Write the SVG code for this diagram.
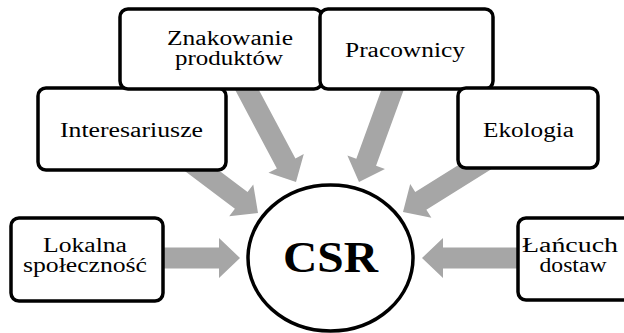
<svg xmlns="http://www.w3.org/2000/svg" width="624" height="333" viewBox="0 0 624 333">
  <style>
    .box { fill: #ffffff; stroke: #000000; stroke-width: 3.5; }
    .arrow { fill: #a6a6a6; stroke: none; }
    text { font-family: 'Liberation Serif', 'Times New Roman', Times, Tinos, FreeSerif, 'Nimbus Roman', 'Nimbus Roman No9 L', 'DejaVu Serif', 'Noto Serif', Georgia, serif; fill: #000000; text-anchor: middle; font-size: 20px; }
    .hub { font-size: 45px; font-weight: bold; }
  </style>

  <!-- block arrows: tip at origin, pointing along +x, shaft length set per use -->
  <g id="connectors">
    <polygon class="arrow" points="-110,-10.5 -21,-10.5 -21,-20 0,0 -21,20 -21,10.5 -110,10.5" transform="translate(296,182) rotate(62)"/>
    <polygon class="arrow" points="-85,-10.5 -21,-10.5 -21,-20 0,0 -21,20 -21,10.5 -85,10.5" transform="translate(258,213) rotate(37)"/>
    <polygon class="arrow" points="-105,-10.5 -21,-10.5 -21,-20 0,0 -21,20 -21,10.5 -105,10.5" transform="translate(359,182) rotate(110)"/>
    <polygon class="arrow" points="-105,-10.5 -21,-10.5 -21,-20 0,0 -21,20 -21,10.5 -105,10.5" transform="translate(403,212) rotate(148)"/>
    <polygon class="arrow" points="-90,-10.5 -21,-10.5 -21,-20 0,0 -21,20 -21,10.5 -90,10.5" transform="translate(240,258)"/>
    <polygon class="arrow" points="-110,-10.5 -21,-10.5 -21,-20 0,0 -21,20 -21,10.5 -110,10.5" transform="translate(422,258) rotate(180)"/>
  </g>

  <g id="interesariusze">
    <rect class="box" x="38" y="88" width="188" height="82" rx="8"/>
    <text x="131.5" y="137" textLength="143" lengthAdjust="spacingAndGlyphs">Interesariusze</text>
  </g>

  <g id="znakowanie">
    <rect class="box" x="120" y="9" width="202" height="80" rx="8"/>
    <text x="230" y="45" textLength="126" lengthAdjust="spacingAndGlyphs">Znakowanie</text>
    <text x="229" y="65" textLength="108" lengthAdjust="spacingAndGlyphs">produktów</text>
  </g>

  <g id="pracownicy">
    <rect class="box" x="320" y="9" width="173" height="80" rx="8"/>
    <text x="405" y="57" textLength="120" lengthAdjust="spacingAndGlyphs">Pracownicy</text>
  </g>

  <g id="ekologia">
    <rect class="box" x="458" y="88" width="140" height="80" rx="8"/>
    <text x="528.5" y="137" textLength="91" lengthAdjust="spacingAndGlyphs">Ekologia</text>
  </g>

  <g id="lokalna">
    <rect class="box" x="11" y="218" width="152" height="83" rx="8"/>
    <text x="85" y="252" textLength="84" lengthAdjust="spacingAndGlyphs">Lokalna</text>
    <text x="85" y="272" textLength="124" lengthAdjust="spacingAndGlyphs">społeczność</text>
  </g>

  <g id="lancuch">
    <rect class="box" x="518" y="218" width="124" height="82" rx="8"/>
    <text x="570" y="252" textLength="96" lengthAdjust="spacingAndGlyphs">Łańcuch</text>
    <text x="573" y="272" textLength="67" lengthAdjust="spacingAndGlyphs">dostaw</text>
  </g>

  <g id="csr">
    <ellipse cx="330.5" cy="258" rx="82.5" ry="73" fill="#ffffff" stroke="#000000" stroke-width="3.5"/>
    <text class="hub" x="330.5" y="272" textLength="95" lengthAdjust="spacingAndGlyphs">CSR</text>
  </g>
</svg>
